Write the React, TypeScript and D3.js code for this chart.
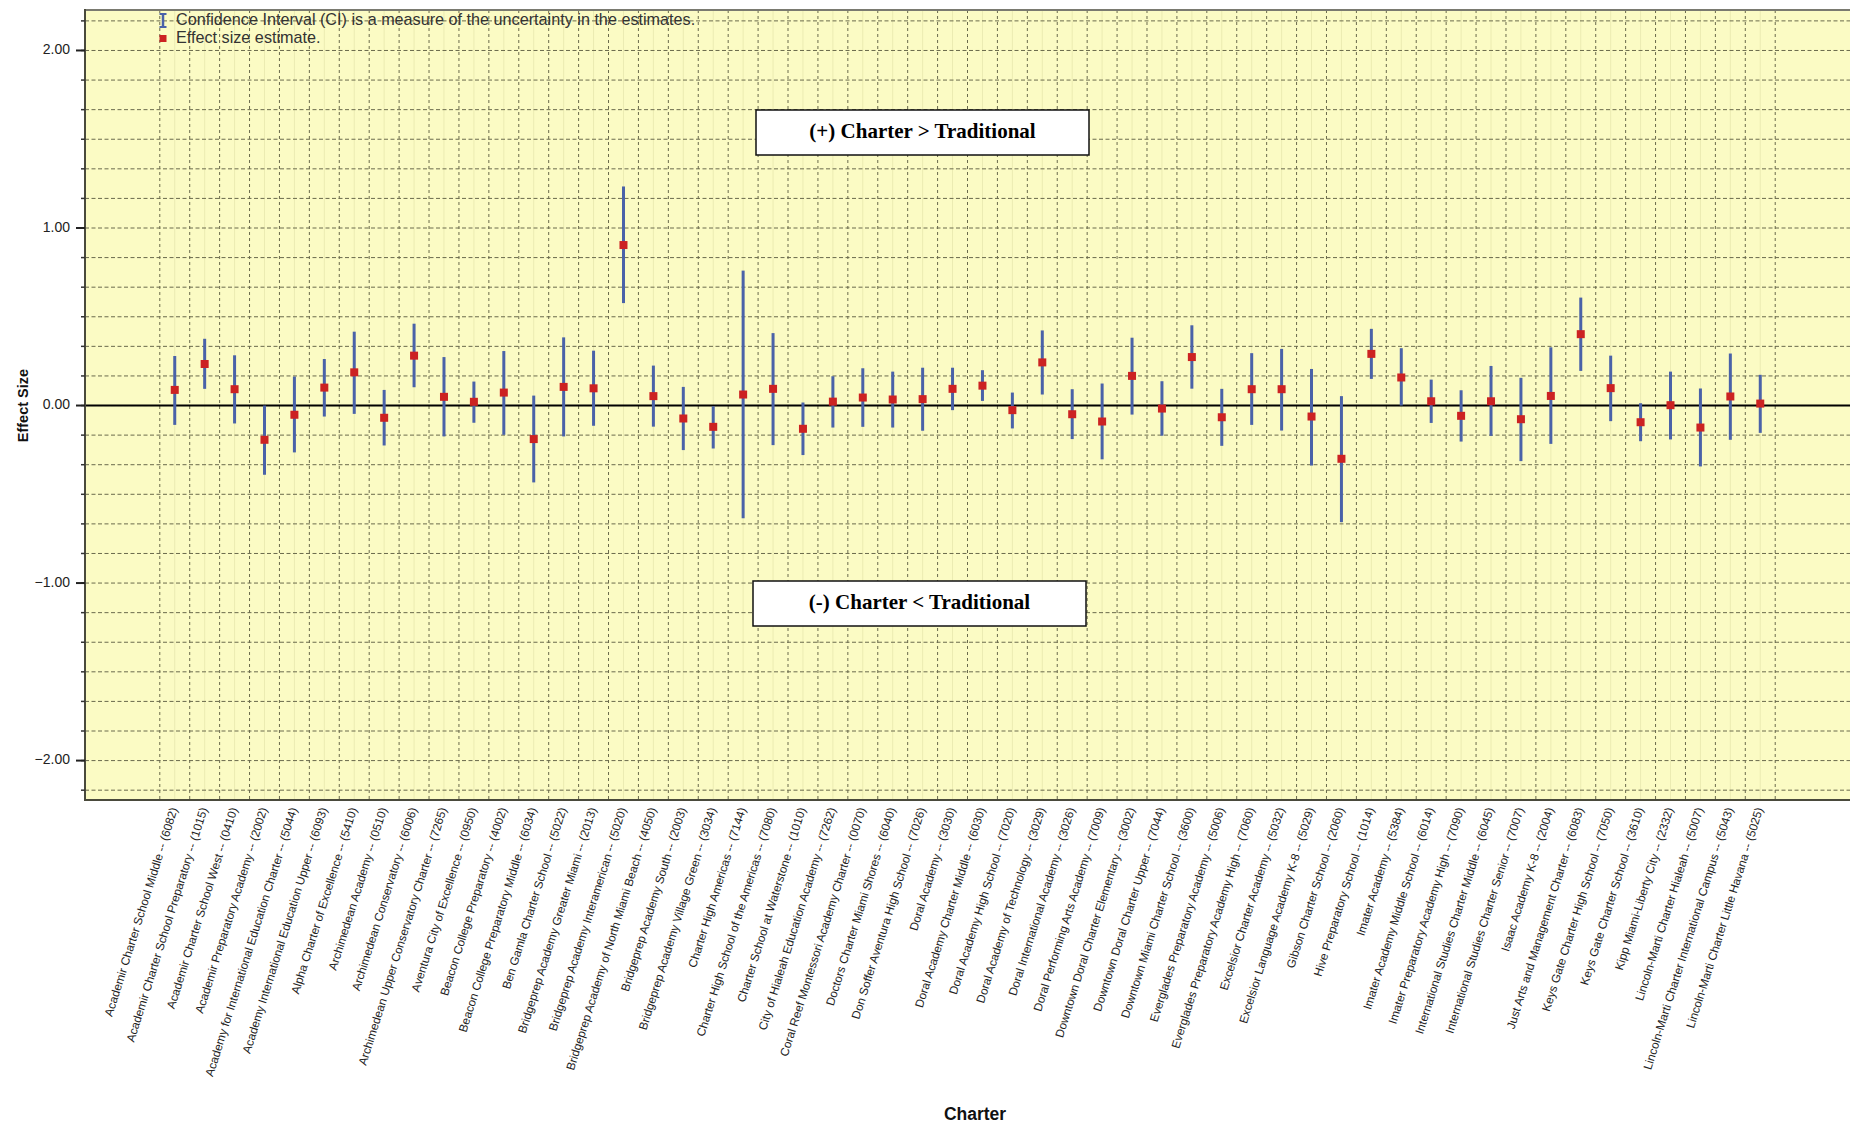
import React from "react";
import * as d3 from "d3";

const categories: string[] = [
  "Academir Charter School Middle -- (6082)",
  "Academir Charter School Preparatory -- (1015)",
  "Academir Charter School West -- (0410)",
  "Academir Preparatory Academy -- (2002)",
  "Academy for International Education Charter -- (5044)",
  "Academy International Education Upper -- (6093)",
  "Alpha Charter of Excellence -- (5410)",
  "Archimedean Academy -- (0510)",
  "Archimedean Conservatory -- (6006)",
  "Archimedean Upper Conservatory Charter -- (7265)",
  "Aventura City of Excellence -- (0950)",
  "Beacon College Preparatory -- (4002)",
  "Beacon College Preparatory Middle -- (6034)",
  "Ben Gamla Charter School -- (5022)",
  "Bridgeprep Academy Greater Miami -- (2013)",
  "Bridgeprep Academy Interamerican -- (5020)",
  "Bridgeprep Academy of North Miami Beach -- (4050)",
  "Bridgeprep Academy South -- (2003)",
  "Bridgeprep Academy Village Green -- (3034)",
  "Charter High Americas -- (7144)",
  "Charter High School of the Americas -- (7080)",
  "Charter School at Waterstone -- (1010)",
  "City of Hialeah Education Academy -- (7262)",
  "Coral Reef Montessori Academy Charter -- (0070)",
  "Doctors Charter Miami Shores -- (6040)",
  "Don Soffer Aventura High School -- (7026)",
  "Doral Academy -- (3030)",
  "Doral Academy Charter Middle -- (6030)",
  "Doral Academy High School -- (7020)",
  "Doral Academy of Technology -- (3029)",
  "Doral International Academy -- (3026)",
  "Doral Performing Arts Academy -- (7009)",
  "Downtown Doral Charter Elementary -- (3002)",
  "Downtown Doral Charter Upper -- (7044)",
  "Downtown Miami Charter School -- (3600)",
  "Everglades Preparatory Academy -- (5006)",
  "Everglades Preparatory Academy High -- (7060)",
  "Excelsior Charter Academy -- (5032)",
  "Excelsior Language Academy K-8 -- (5029)",
  "Gibson Charter School -- (2060)",
  "Hive Preparatory School -- (1014)",
  "Imater Academy -- (5384)",
  "Imater Academy Middle School -- (6014)",
  "Imater Preparatory Academy High -- (7090)",
  "International Studies Charter Middle -- (6045)",
  "International Studies Charter Senior -- (7007)",
  "Isaac Academy K-8 -- (2004)",
  "Just Arts and Management Charter -- (6083)",
  "Keys Gate Charter High School -- (7050)",
  "Keys Gate Charter School -- (3610)",
  "Kipp Miami-Liberty City -- (2332)",
  "Lincoln-Marti Charter Hialeah -- (5007)",
  "Lincoln-Marti Charter International Campus -- (5043)",
  "Lincoln-Marti Charter Little Havana -- (5025)",
];

const estimate: number[] = [
  0.088, 0.234, 0.092, -0.193, -0.052, 0.101, 0.187, -0.069, 0.281, 0.049,
  0.021, 0.073, -0.189, 0.105, 0.097, 0.904, 0.053, -0.073, -0.12, 0.062,
  0.094, -0.131, 0.022, 0.045, 0.034, 0.036, 0.094, 0.112, -0.026, 0.243,
  -0.049, -0.09, 0.167, -0.017, 0.273, -0.066, 0.092, 0.092, -0.062, -0.3,
  0.291, 0.158, 0.024, -0.058, 0.024, -0.077, 0.054, 0.402, 0.098, -0.094,
  0.002, -0.124, 0.051, 0.011,
];

const ciLow: number[] = [
  -0.109, 0.094, -0.101, -0.39, -0.264, -0.062, -0.047, -0.225, 0.103, -0.174,
  -0.097, -0.165, -0.433, -0.174, -0.114, 0.577, -0.119, -0.251, -0.242, -0.635,
  -0.223, -0.279, -0.124, -0.12, -0.124, -0.142, -0.026, 0.026, -0.129, 0.062,
  -0.189, -0.303, -0.051, -0.17, 0.095, -0.227, -0.109, -0.141, -0.338, -0.657,
  0.15, 0.0, -0.098, -0.203, -0.171, -0.313, -0.216, 0.195, -0.088, -0.201,
  -0.191, -0.343, -0.193, -0.154,
];

const ciHigh: number[] = [
  0.279, 0.376, 0.283, 0.0, 0.163, 0.262, 0.416, 0.088, 0.461, 0.273,
  0.135, 0.307, 0.056, 0.384, 0.309, 1.234, 0.225, 0.105, -0.004, 0.76,
  0.408, 0.017, 0.165, 0.21, 0.191, 0.213, 0.213, 0.199, 0.073, 0.423,
  0.092, 0.124, 0.382, 0.137, 0.452, 0.094, 0.295, 0.319, 0.206, 0.053,
  0.432, 0.323, 0.146, 0.086, 0.223, 0.156, 0.328, 0.608, 0.281, 0.013,
  0.191, 0.096, 0.293, 0.173,
];

const yTickValues: number[] = [2, 1, 0, -1, -2];
const gridSteps: number[] = d3.range(-13, 14);

const W = 1850;
const H = 1123;
const left = 85;
const right = 1850;
const top = 10;
const bottom = 800;

const sans = "'Liberation Sans', Arial, sans-serif";
const serif = "'Liberation Serif', 'Times New Roman', serif";

export default function App() {
  const x = d3
    .scaleBand<string>()
    .domain(categories)
    .range([left, right])
    .paddingInner(0)
    .paddingOuter(2.5);
  const y = d3.scaleLinear().domain([-2.222, 2.228]).range([bottom, top]);
  const bw = x.bandwidth();
  const cx = (c: string) => (x(c) as number) + bw / 2;
  const gridVals = gridSteps.map((k) => k / 6);
  const boundaries = d3.range(categories.length + 1).map((i) => (x(categories[0]) as number) + i * bw);
  const gridColor = "#6a6a4c";

  const data = categories.map((c, i) => ({
    c,
    est: estimate[i],
    lo: ciLow[i],
    hi: ciHigh[i],
  }));

  return (
    <svg
      width={W}
      height={H}
      style={{ position: "absolute", left: 0, top: 0, background: "#ffffff" }}
    >
      <rect x={left} y={top} width={right - left} height={bottom - top} fill="#fbfbc4" />
      {categories.map((c) => (
        <line key={"f" + c} x1={cx(c)} x2={cx(c)} y1={top} y2={bottom} stroke="#ebebb2" strokeWidth={1} />
      ))}
      {gridVals.map((v) => (
        <line
          key={"h" + v}
          x1={left}
          x2={right}
          y1={y(v)}
          y2={y(v)}
          stroke={gridColor}
          strokeWidth={1}
          strokeDasharray="4,2.5"
        />
      ))}
      {boundaries.map((b, i) => (
        <line
          key={"v" + i}
          x1={b}
          x2={b}
          y1={top}
          y2={bottom}
          stroke={gridColor}
          strokeWidth={1}
          strokeDasharray="3,3"
        />
      ))}
      <line x1={left} x2={right} y1={y(0)} y2={y(0)} stroke="#000" strokeWidth={2} />

      <line x1={left} x2={right} y1={top} y2={top} stroke="#7a7a70" strokeWidth={2} />
      <line x1={left} x2={left} y1={top - 1} y2={bottom + 1} stroke="#4a4a3c" strokeWidth={2} />
      <line x1={left} x2={right} y1={bottom} y2={bottom} stroke="#4a4a3c" strokeWidth={2} />

      {gridVals.map((v) => (
        <line key={"mt" + v} x1={left - 4} x2={left} y1={y(v)} y2={y(v)} stroke="#333" strokeWidth={1.5} />
      ))}
      {yTickValues.map((v) => (
        <g key={"yt" + v}>
          <line x1={left - 9} x2={left} y1={y(v)} y2={y(v)} stroke="#222" strokeWidth={2} />
          <text
            x={left - 15}
            y={y(v)}
            textAnchor="end"
            dominantBaseline="middle"
            fontFamily={sans}
            fontSize={14}
            fill="#222"
          >
            {d3.format(".2f")(v)}
          </text>
        </g>
      ))}

      {data.map((d) => (
        <line
          key={"e" + d.c}
          x1={cx(d.c)}
          x2={cx(d.c)}
          y1={y(d.hi)}
          y2={y(d.lo)}
          stroke="#4a62a8"
          strokeWidth={3}
        />
      ))}
      {data.map((d) => (
        <rect
          key={"p" + d.c}
          x={cx(d.c) - 4}
          y={y(d.est) - 4}
          width={8}
          height={8}
          fill="#cc2222"
        />
      ))}

      <rect x={756} y={110} width={333} height={45} fill="#ffffff" stroke="#111" strokeWidth={1.5} />
      <text
        x={922.5}
        y={133}
        textAnchor="middle"
        dominantBaseline="middle"
        fontFamily={serif}
        fontWeight="bold"
        fontSize={21}
        fill="#000"
      >
        (+) Charter &gt; Traditional
      </text>
      <rect x={753} y={581} width={333} height={45} fill="#ffffff" stroke="#111" strokeWidth={1.5} />
      <text
        x={919.5}
        y={604}
        textAnchor="middle"
        dominantBaseline="middle"
        fontFamily={serif}
        fontWeight="bold"
        fontSize={21}
        fill="#000"
      >
        (-) Charter &lt; Traditional
      </text>

      <g>
        <line x1={163} x2={163} y1={14} y2={27} stroke="#4a62a8" strokeWidth={2.5} />
        <line x1={159.5} x2={166.5} y1={14} y2={14} stroke="#4a62a8" strokeWidth={2} />
        <line x1={159.5} x2={166.5} y1={27} y2={27} stroke="#4a62a8" strokeWidth={2} />
        <text x={176} y={21} dominantBaseline="middle" fontFamily={sans} fontSize={16.2} fill="#333">
          Confidence Interval (CI) is a measure of the uncertainty in the estimates.
        </text>
        <rect x={159.5} y={35} width={7} height={7} fill="#cc2222" />
        <text x={176} y={39} dominantBaseline="middle" fontFamily={sans} fontSize={16.2} fill="#333">
          Effect size estimate.
        </text>
      </g>

      {categories.map((c) => (
        <text
          key={"xl" + c}
          transform={`translate(${cx(c) + 3},${bottom + 9}) rotate(-72.5)`}
          textAnchor="end"
          fontFamily={sans}
          fontSize={11.8}
          fill="#222"
        >
          {c}
        </text>
      ))}

      <text
        transform={`translate(24,${y(0)}) rotate(-90)`}
        textAnchor="middle"
        dominantBaseline="middle"
        fontFamily={sans}
        fontWeight="bold"
        fontSize={14.5}
        fill="#111"
      >
        Effect Size
      </text>
      <text
        x={975}
        y={1120}
        textAnchor="middle"
        fontFamily={sans}
        fontWeight="bold"
        fontSize={17.5}
        fill="#111"
      >
        Charter
      </text>
    </svg>
  );
}
